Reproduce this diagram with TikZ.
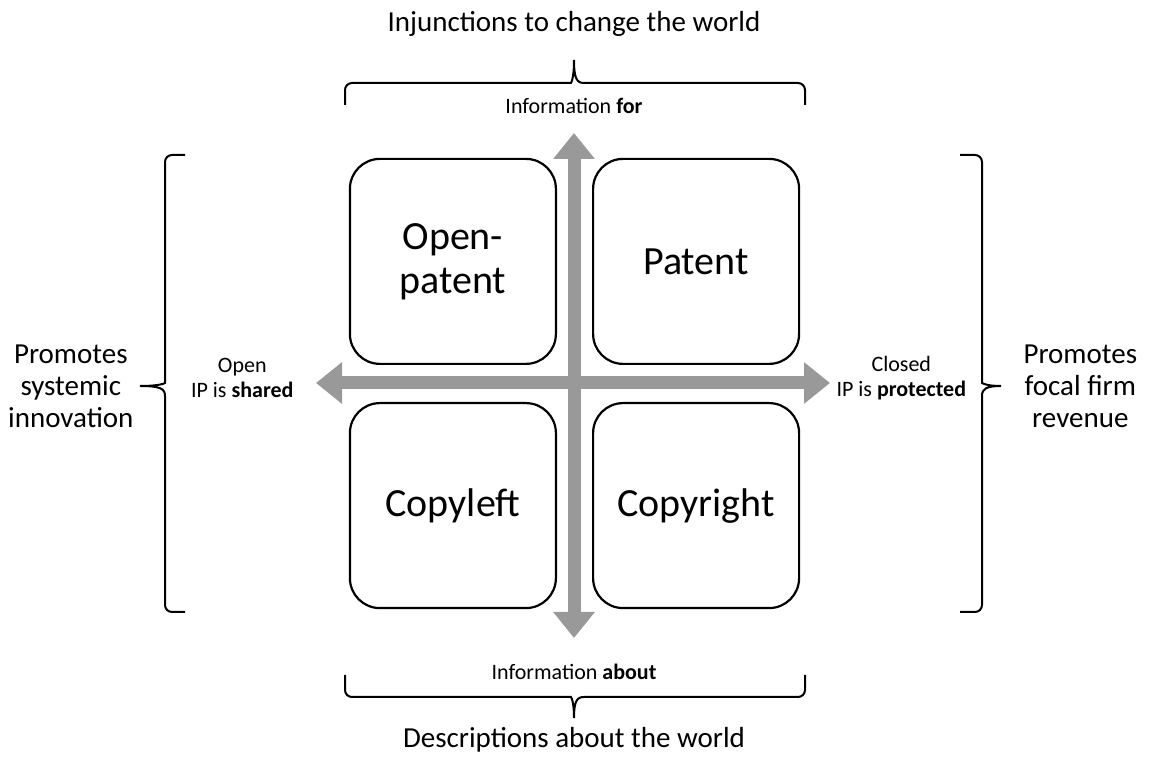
\documentclass[tikz,border=0pt]{standalone}
\usepackage{fontspec}
\setmainfont{Carlito}
\usetikzlibrary{positioning,arrows.meta}

\begin{document}
\begin{tikzpicture}[x=1pt,y=1pt,node distance=18pt,
    quad/.style={draw,line width=2.2pt,rounded corners=30pt,minimum width=206pt,
      minimum height=205pt,align=center,font=\fontsize{40}{44}\selectfont},
    axis/.style={line width=13pt,draw=black!40,
      {Triangle[width=40pt,length=26pt]}-{Triangle[width=40pt,length=26pt]}},
    bracket/.style={line width=2pt},
    small/.style={align=center,font=\fontsize{22}{25}\selectfont},
    big/.style={align=center,font=\fontsize{29}{32}\selectfont}]
    \useasboundingbox (0,0) rectangle (1154,759);
    \coordinate (ctr) at (574,376);
    % the two axes
    \coordinate (west)  at (316,376);
    \coordinate (east)  at (830,376);
    \coordinate (north) at (574,626);
    \coordinate (south) at (574,121);
    \draw[axis] (west) -- (east);
    \draw[axis] (south) -- (north);
    % quadrants
    \node[quad] (openpat)  [above left=18pt and 17pt of ctr]  {Open-\\patent};
    \node[quad] (patent)   [above right=18pt and 18pt of ctr] {Patent};
    \node[quad] (copyleft) [below left=19pt and 17pt of ctr]  {Copyleft};
    \node[quad] (copyrt)   [below right=19pt and 18pt of ctr] {Copyright};
    % axis labels
    \node[small] (infofor)   [above=16pt of north] {Information \textbf{for}};
    \node[small] (infoabout) [below=23pt of south] {Information \textbf{about}};
    \node[small] (shared)    [left=19pt of west,yshift=5pt] {Open\\IP is \textbf{shared}};
    \node[small] (protected) [right=3pt of east,yshift=5pt] {Closed\\IP is \textbf{protected}};
    % brackets
    \coordinate (ttip) at (574,699);
    \coordinate (btip) at (574,41);
    \coordinate (ltip) at (140,373);
    \coordinate (rtip) at (1001,373);
    \draw[bracket] (345,654) [rounded corners=7pt] |- (564,676) [sharp corners]
      .. controls (571,676) and (574,680) .. (ttip)
      .. controls (574,680) and (577,676) .. (584,676) [rounded corners=7pt] -| (805,654);
    \draw[bracket] (345,84) [rounded corners=7pt] |- (564,62) [sharp corners]
      .. controls (571,62) and (574,58) .. (btip)
      .. controls (574,58) and (577,62) .. (584,62) [rounded corners=7pt] -| (805,84);
    \draw[bracket] (185,604) [rounded corners=7pt] -| (165,383) [sharp corners]
      .. controls (165,376) and (161,373) .. (ltip)
      .. controls (161,373) and (165,370) .. (165,363) [rounded corners=7pt] |- (185,147);
    \draw[bracket] (960,604) [rounded corners=7pt] -| (982,383) [sharp corners]
      .. controls (982,376) and (986,373) .. (rtip)
      .. controls (986,373) and (982,370) .. (982,363) [rounded corners=7pt] |- (960,147);
    % bracket labels
    \node[big] (injunct) [above=20pt of ttip] {Injunctions to change the world};
    \node[big] (descr)   [below=6pt of btip]  {Descriptions about the world};
    \node[big] (sysinn)  [left=3pt of ltip]   {Promotes\\systemic\\innovation};
    \node[big] (focal)   [right=19pt of rtip] {Promotes\\focal firm\\revenue};
\end{tikzpicture}
\end{document}
